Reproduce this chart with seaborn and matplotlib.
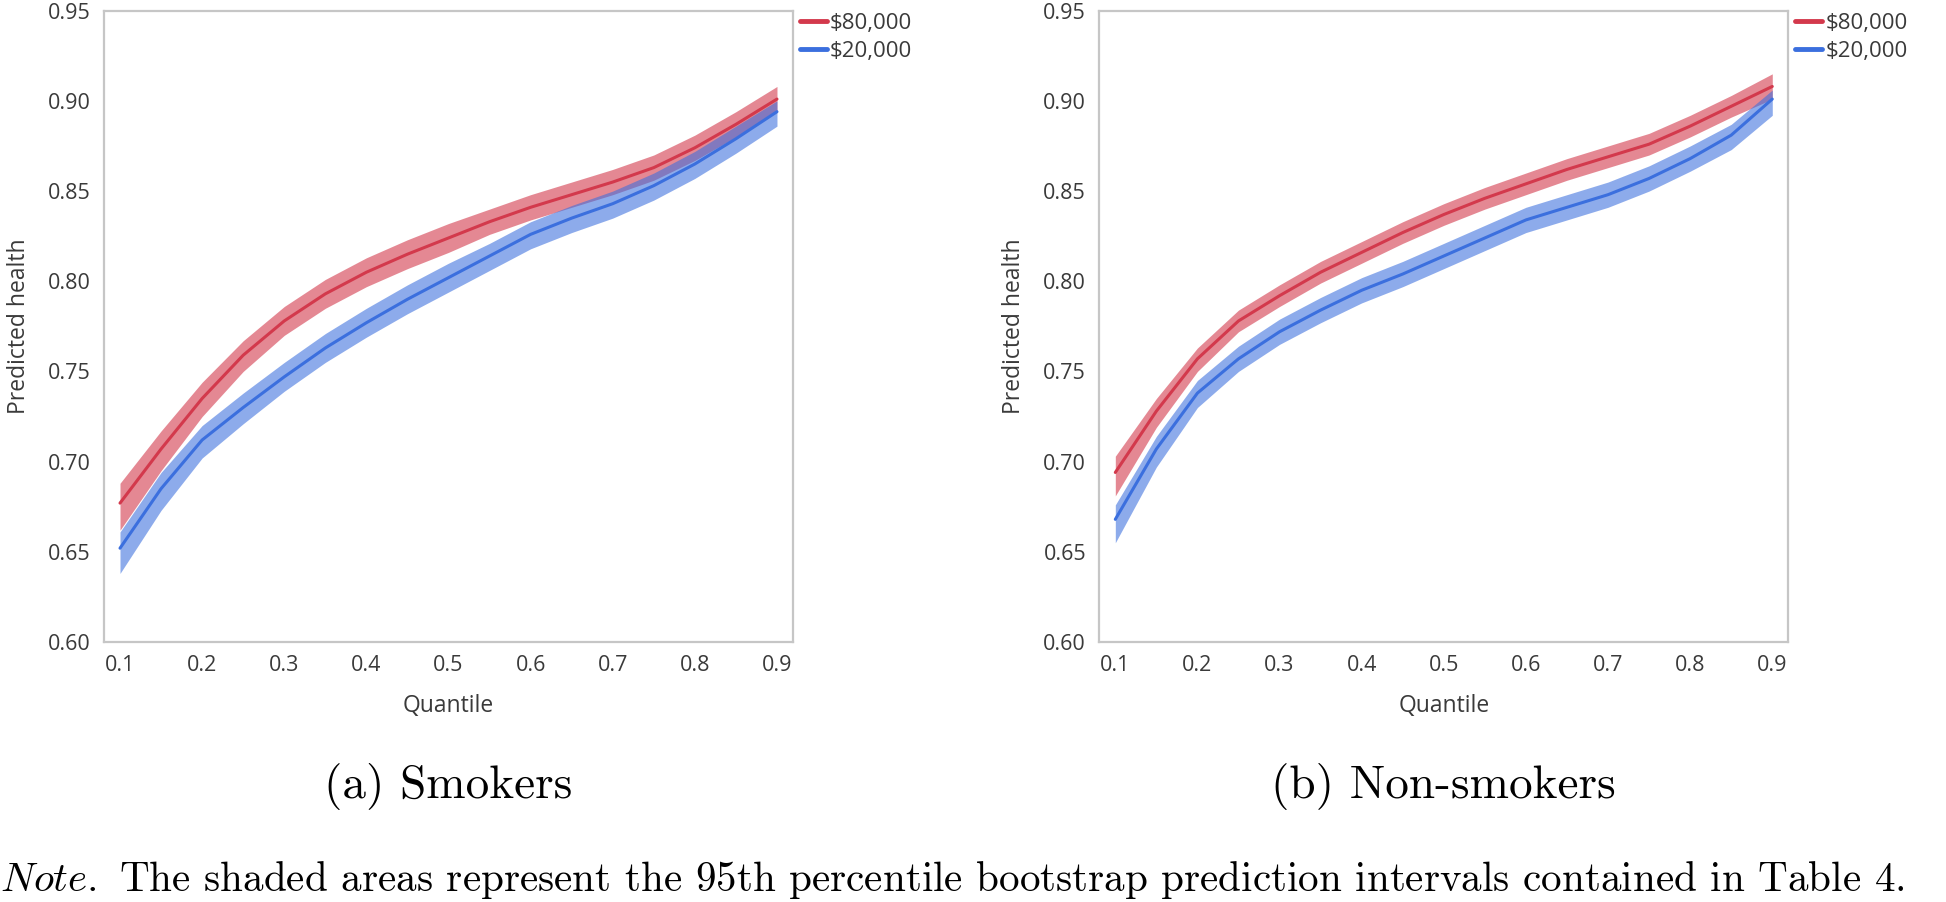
import matplotlib
matplotlib.use('Agg')
import pandas as pd
import matplotlib.pyplot as plt
import seaborn as sns

# quantiles on the x axis
quantile = [0.10, 0.15, 0.20, 0.25, 0.30, 0.35, 0.40, 0.45, 0.50,
            0.55, 0.60, 0.65, 0.70, 0.75, 0.80, 0.85, 0.90]
incomes = ['$80,000', '$20,000']

# (a) smokers
smk_80k = [0.677, 0.707, 0.735, 0.759, 0.778, 0.793, 0.805, 0.815, 0.824,
           0.833, 0.841, 0.848, 0.855, 0.863, 0.874, 0.887, 0.901]
smk_80k_hi = [0.688, 0.717, 0.744, 0.767, 0.786, 0.801, 0.813, 0.823, 0.832,
              0.840, 0.848, 0.855, 0.862, 0.870, 0.881, 0.894, 0.908]
smk_80k_lo = [0.662, 0.695, 0.725, 0.750, 0.770, 0.785, 0.797, 0.807, 0.816,
              0.826, 0.834, 0.841, 0.848, 0.856, 0.867, 0.880, 0.894]
smk_20k = [0.652, 0.685, 0.712, 0.730, 0.747, 0.763, 0.777, 0.790, 0.802,
           0.814, 0.826, 0.835, 0.843, 0.853, 0.865, 0.879, 0.894]
smk_20k_hi = [0.661, 0.694, 0.720, 0.738, 0.755, 0.771, 0.785, 0.798, 0.810,
              0.821, 0.833, 0.842, 0.850, 0.860, 0.872, 0.886, 0.900]
smk_20k_lo = [0.638, 0.673, 0.702, 0.721, 0.739, 0.755, 0.769, 0.782, 0.794,
              0.806, 0.818, 0.827, 0.835, 0.845, 0.857, 0.871, 0.886]

# (b) non-smokers
non_80k = [0.694, 0.728, 0.757, 0.778, 0.792, 0.805, 0.816, 0.827, 0.837,
           0.846, 0.854, 0.862, 0.869, 0.876, 0.886, 0.897, 0.908]
non_80k_hi = [0.703, 0.735, 0.763, 0.784, 0.798, 0.811, 0.822, 0.833, 0.843,
              0.852, 0.860, 0.868, 0.875, 0.882, 0.892, 0.903, 0.915]
non_80k_lo = [0.681, 0.719, 0.750, 0.772, 0.786, 0.799, 0.810, 0.821, 0.831,
              0.840, 0.848, 0.856, 0.863, 0.870, 0.880, 0.891, 0.901]
non_20k = [0.668, 0.707, 0.738, 0.757, 0.772, 0.784, 0.795, 0.804, 0.814,
           0.824, 0.834, 0.841, 0.848, 0.857, 0.868, 0.881, 0.901]
non_20k_hi = [0.676, 0.714, 0.745, 0.764, 0.779, 0.791, 0.802, 0.811, 0.821,
              0.831, 0.841, 0.848, 0.855, 0.864, 0.875, 0.887, 0.906]
non_20k_lo = [0.655, 0.697, 0.730, 0.750, 0.765, 0.777, 0.788, 0.797, 0.807,
              0.817, 0.827, 0.834, 0.841, 0.850, 0.861, 0.873, 0.892]

yticks = [0.60, 0.65, 0.70, 0.75, 0.80, 0.85, 0.90, 0.95]
xticks = [0.1, 0.2, 0.3, 0.4, 0.5, 0.6, 0.7, 0.8, 0.9]

sns.set_theme(style='white')
plt.rcParams['font.family'] = ['Open Sans', 'DejaVu Sans']
plt.rcParams['mathtext.fontset'] = 'cm'

colors = {'$80,000': '#d3394c', '$20,000': '#3b6fde'}
band_alpha = {'$80,000': 0.6, '$20,000': 0.58}
grey = '#c6c6c6'
text_col = '#3a3a3a'

fig = plt.figure(figsize=(19.46, 9.02), dpi=100)
ax_a = fig.add_axes([0.05344, 0.28825, 0.35406, 0.69989])
ax_b = fig.add_axes([0.56490, 0.28825, 0.35406, 0.69989])

panels = [
    (ax_a, [smk_80k, smk_20k], [smk_80k_lo, smk_20k_lo], [smk_80k_hi, smk_20k_hi]),
    (ax_b, [non_80k, non_20k], [non_80k_lo, non_20k_lo], [non_80k_hi, non_20k_hi]),
]

for ax, mids, los, his in panels:
    rows = []
    for inc, mid in zip(incomes, mids):
        for q, v in zip(quantile, mid):
            rows.append({'Quantile': q, 'Predicted health': v, 'Income': inc})
    df = pd.DataFrame(rows)

    # shaded prediction intervals
    for inc, lo, hi in zip(incomes, los, his):
        ax.fill_between(quantile, lo, hi, color=colors[inc],
                        alpha=band_alpha[inc], linewidth=0)
    sns.lineplot(data=df, x='Quantile', y='Predicted health', hue='Income',
                 hue_order=incomes, palette=colors, linewidth=2.2, ax=ax)

    ax.set_xlim(0.0805, 0.9195)
    ax.set_ylim(0.60, 0.95)
    ax.set_xticks(xticks)
    ax.set_xticklabels([f'{t:.1f}' for t in xticks])
    ax.set_yticks(yticks)
    ax.set_yticklabels([f'{t:.2f}' for t in yticks])
    ax.tick_params(axis='both', direction='out', length=6, width=1.3,
                   color=grey, labelsize=15.5, labelcolor=text_col, pad=3.5)
    for sp in ax.spines.values():
        sp.set_color(grey)
        sp.set_linewidth(1.6)

    ax.set_xlabel('Quantile', fontsize=16.5, color=text_col)
    ax.set_ylabel('Predicted health', fontsize=16.5, color=text_col)
    ax.xaxis.set_label_coords(0.5, -0.083)
    ax.yaxis.set_label_coords(-0.106, 0.5)

    leg = ax.legend(loc='upper left', bbox_to_anchor=(1.0102, 0.996),
                    frameon=False, fontsize=16, handlelength=1.2,
                    handletextpad=0.15, labelspacing=0.3, borderpad=0,
                    borderaxespad=0)
    for line in leg.get_lines():
        line.set_linewidth(3.5)
    for t in leg.get_texts():
        t.set_color(text_col)

# sub-captions and note in a LaTeX-like serif
fig.text(0.2305, 0.128, '(a) Smokers', family='cmr10', fontsize=34,
         ha='center', va='center', color='black')
fig.text(0.7419, 0.128, '(b) Non-smokers', family='cmr10', fontsize=34,
         ha='center', va='center', color='black')
fig.text(0.0, 0.024,
         r'$\mathit{Note.}$ The shaded areas represent the 95th percentile '
         'bootstrap prediction intervals contained in Table 4.',
         family='cmr10', fontsize=29.6, ha='left', va='center', color='black')

fig.savefig('out.png', dpi=100)
